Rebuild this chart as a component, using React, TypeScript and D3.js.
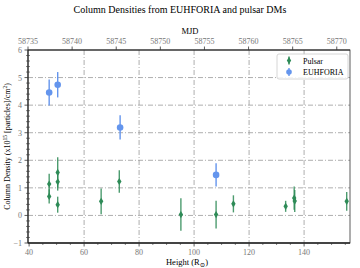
import React from "react";
import * as d3 from "d3";

const pulsarHeight = [47.3, 47.3, 50.4, 50.4, 50.4, 66.2, 72.8, 95.2, 108, 114.3, 133.3, 136.4, 136.6, 155.5];
const pulsarDensity = [1.14, 0.69, 1.56, 1.22, 0.39, 0.51, 1.23, 0.03, 0.03, 0.42, 0.33, 0.63, 0.52, 0.51];
const pulsarError = [0.37, 0.26, 0.55, 0.32, 0.29, 0.47, 0.41, 0.59, 0.5, 0.31, 0.2, 0.42, 0.4, 0.34];

const euhHeight = [47.3, 50.4, 73.1, 108];
const euhDensity = [4.46, 4.74, 3.19, 1.47];
const euhError = [0.47, 0.46, 0.44, 0.42];

const xTicks = [40, 60, 80, 100, 120, 140];
const yTicks = [-1, 0, 1, 2, 3, 4, 5, 6];
const mjdTicks = [58735, 58740, 58745, 58750, 58755, 58760, 58765, 58770];

const W = 360;
const H = 268;
const m = { left: 28, right: 10, top: 50, bottom: 25 };
const green = "#2e8b57";
const blue = "#6495ed";
const font = "Liberation Serif, DejaVu Serif, serif";

export default function App() {
  React.useEffect(() => {
    document.body.style.margin = "0";
  }, []);

  const x = d3.scaleLinear().domain([39.6, 156.7]).range([m.left, W - m.right]);
  const y = d3.scaleLinear().domain([-1, 6]).range([H - m.bottom, m.top]);
  const mjd = d3.scaleLinear().domain([58735, 58771.5]).range([m.left, W - m.right]);

  const pulsar = pulsarHeight.map((h, i) => ({ h, d: pulsarDensity[i], e: pulsarError[i] }));
  const euh = euhHeight.map((h, i) => ({ h, d: euhDensity[i], e: euhError[i] }));

  const minorX = d3.range(40, 157, 5).filter(v => v % 20 !== 0);
  const minorY = d3.range(-1, 6.01, 0.2).map(v => +v.toFixed(1)).filter(v => Math.abs(v - Math.round(v)) > 0.01);

  const grid = "#999";
  const dash = "5,2,1,2";
  const diamond = (cx: number, cy: number) =>
    `M${cx},${cy - 3.6}L${cx + 2.2},${cy}L${cx},${cy + 3.6}L${cx - 2.2},${cy}Z`;

  return (
    <svg width={W} height={H} style={{ display: "block" }} fontFamily={font}>
      <rect width={W} height={H} fill="white" />
      <text x={180} y={13} textAnchor="middle" fontSize={10}>
        Column Densities from EUHFORIA and pulsar DMs
      </text>

      {/* grid */}
      {xTicks.filter(t => t > 40).map(t => (
        <line key={"gx" + t} x1={x(t)} x2={x(t)} y1={m.top} y2={H - m.bottom}
          stroke={grid} strokeWidth={0.8} strokeDasharray={dash} />
      ))}
      {yTicks.filter(t => t > -1 && t < 6).map(t => (
        <line key={"gy" + t} x1={m.left} x2={W - m.right} y1={y(t)} y2={y(t)}
          stroke={grid} strokeWidth={0.8} strokeDasharray={dash} />
      ))}

      {/* spines */}
      <rect x={m.left} y={m.top} width={W - m.left - m.right} height={H - m.top - m.bottom}
        fill="none" stroke="#333" strokeWidth={0.8} />
      <line x1={m.left} x2={W - m.right} y1={H - m.bottom} y2={H - m.bottom} stroke="#222" strokeWidth={1.3} />
      <line x1={m.left} x2={W - m.right} y1={m.top} y2={m.top} stroke="#222" strokeWidth={1.1} />
      <line x1={m.left} x2={m.left} y1={m.top} y2={H - m.bottom} stroke="#222" strokeWidth={1.1} />

      {/* bottom axis */}
      {xTicks.map(t => (
        <g key={"xt" + t}>
          <line x1={x(t)} x2={x(t)} y1={H - m.bottom} y2={H - m.bottom + 3.5} stroke="#333" strokeWidth={0.8} />
          <text x={x(t)} y={H - m.bottom + 12} textAnchor="middle" fontSize={8} fill="#777">{t}</text>
        </g>
      ))}
      {minorX.map(t => (
        <line key={"xm" + t} x1={x(t)} x2={x(t)} y1={H - m.bottom} y2={H - m.bottom + 2} stroke="#333" strokeWidth={0.6} />
      ))}
      <text x={187} y={H - 3} textAnchor="middle" fontSize={8.5}>
        Height (R<tspan fontSize={6.5} dy={2}>⊙</tspan><tspan dy={-2}>)</tspan>
      </text>

      {/* top axis */}
      {mjdTicks.map(t => (
        <g key={"mt" + t}>
          <line x1={mjd(t)} x2={mjd(t)} y1={m.top} y2={m.top - 3.5} stroke="#333" strokeWidth={0.8} />
          <text x={mjd(t)} y={m.top - 6} textAnchor="middle" fontSize={8} fill="#777">{t}</text>
        </g>
      ))}
      <text x={190} y={34} textAnchor="middle" fontSize={8.5}>MJD</text>

      {/* left axis */}
      {yTicks.map(t => (
        <g key={"yt" + t}>
          <line x1={m.left - 3.5} x2={m.left} y1={y(t)} y2={y(t)} stroke="#333" strokeWidth={0.8} />
          <text x={m.left - 6} y={y(t) + 3} textAnchor="end" fontSize={8} fill="#777">
            {t < 0 ? "\u2212" + Math.abs(t) : t}
          </text>
        </g>
      ))}
      {minorY.map(t => (
        <line key={"ym" + t} x1={m.left - 2} x2={m.left + 2} y1={y(t)} y2={y(t)} stroke="#333" strokeWidth={0.6} />
      ))}
      <text transform={`translate(10,${(m.top + H - m.bottom) / 2}) rotate(-90)`} textAnchor="middle" fontSize={8}>
        Column Density (x10<tspan fontSize={5.5} dy={-3}>15</tspan>
        <tspan dy={3}> [particles]/cm</tspan><tspan fontSize={5.5} dy={-3}>2</tspan><tspan dy={3}>)</tspan>
      </text>

      {/* data */}
      {pulsar.map((p, i) => (
        <g key={"p" + i}>
          <line x1={x(p.h)} x2={x(p.h)} y1={y(p.d - p.e)} y2={y(p.d + p.e)} stroke={green} strokeWidth={1.4} opacity={0.85} />
          <path d={diamond(x(p.h), y(p.d))} fill={green} />
        </g>
      ))}
      {euh.map((p, i) => (
        <g key={"e" + i}>
          <line x1={x(p.h)} x2={x(p.h)} y1={y(p.d - p.e)} y2={y(p.d + p.e)} stroke={blue} strokeWidth={1.4} />
          <circle cx={x(p.h)} cy={y(p.d)} r={3.3} fill={blue} />
        </g>
      ))}

      {/* legend */}
      <g>
        <rect x={277} y={54} width={71} height={25} rx={2} fill="white" fillOpacity={0.85} stroke="#ccc" strokeWidth={0.8} />
        <line x1={289} x2={289} y1={56.5} y2={64.5} stroke={green} strokeWidth={1.4} />
        <path d={diamond(289, 60.5)} fill={green} />
        <text x={303} y={63.5} fontSize={8}>Pulsar</text>
        <line x1={289} x2={289} y1={68} y2={76} stroke={blue} strokeWidth={1.4} />
        <circle cx={289} cy={72} r={2.8} fill={blue} />
        <text x={303} y={75} fontSize={8}>EUHFORIA</text>
      </g>
    </svg>
  );
}
